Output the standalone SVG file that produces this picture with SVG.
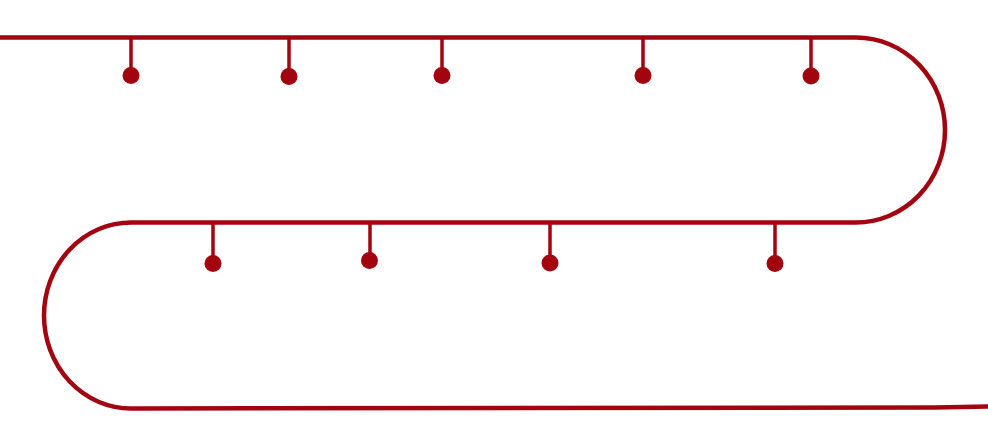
<svg xmlns="http://www.w3.org/2000/svg" width="988" height="437" viewBox="0 0 988 437">
<style>
.line{fill:none;stroke:#A30510;stroke-width:4.5;}
.stem{stroke:#A30510;stroke-width:3.5;}
.dot{fill:#A30510;}
</style>
<rect width="988" height="437" fill="#ffffff"/>
<g id="connectors">
<path class="line" d="M0 37.5 L856 37.5 A89 92.5 0 0 1 856 222.5 L131 222.5 A87 93 0 0 0 131 408.5 L935 407.5 L988 406.5"/>
</g>
<g id="pin1"><line class="stem" x1="131" y1="37" x2="131" y2="75"/><circle class="dot" cx="131" cy="75.5" r="8.5"/></g>
<g id="pin2"><line class="stem" x1="289" y1="37" x2="289" y2="76"/><circle class="dot" cx="289" cy="76.5" r="8.5"/></g>
<g id="pin3"><line class="stem" x1="442" y1="37" x2="442" y2="75"/><circle class="dot" cx="442" cy="75.5" r="8.5"/></g>
<g id="pin4"><line class="stem" x1="643" y1="37" x2="643" y2="75"/><circle class="dot" cx="643" cy="75.5" r="8.5"/></g>
<g id="pin5"><line class="stem" x1="811" y1="37" x2="811" y2="76"/><circle class="dot" cx="811" cy="76" r="8.5"/></g>
<g id="pin6"><line class="stem" x1="213" y1="222" x2="213" y2="263"/><circle class="dot" cx="213" cy="263.5" r="8.5"/></g>
<g id="pin7"><line class="stem" x1="370" y1="222" x2="370" y2="260"/><circle class="dot" cx="369.5" cy="260.5" r="8.5"/></g>
<g id="pin8"><line class="stem" x1="550" y1="222" x2="550" y2="263"/><circle class="dot" cx="550" cy="263" r="8.5"/></g>
<g id="pin9"><line class="stem" x1="775" y1="222" x2="775" y2="263"/><circle class="dot" cx="775" cy="263.5" r="8.5"/></g>
</svg>
